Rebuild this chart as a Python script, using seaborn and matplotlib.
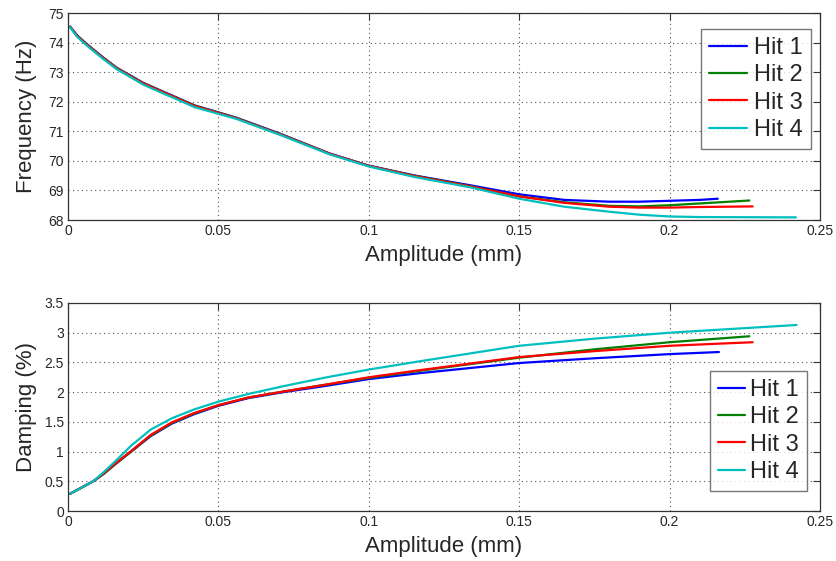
import numpy as np
import pandas as pd
import matplotlib
matplotlib.use("Agg")
import matplotlib.pyplot as plt
import seaborn as sns

hits = ['Hit 1', 'Hit 2', 'Hit 3', 'Hit 4']

# amplitude (mm) / frequency (Hz)
freq_amp_common = [0.0007, 0.003, 0.0057, 0.0084, 0.0118, 0.0162, 0.02, 0.025, 0.031,
                   0.036, 0.042, 0.05, 0.056, 0.0705, 0.087, 0.1, 0.115, 0.134, 0.15,
                   0.165, 0.18, 0.19, 0.2, 0.21]
freq_amp_end = {'Hit 1': 0.216, 'Hit 2': 0.2265, 'Hit 3': 0.2276, 'Hit 4': 0.242}
freq_hit1 = [74.54, 74.25, 74.0, 73.77, 73.49, 73.15, 72.93, 72.64, 72.37, 72.15, 71.88,
             71.64, 71.46, 70.92, 70.25, 69.84, 69.51, 69.17, 68.87, 68.68, 68.62, 68.62,
             68.65, 68.68, 68.72]
freq_hit2 = [74.54, 74.24, 73.99, 73.76, 73.48, 73.14, 72.92, 72.63, 72.36, 72.14, 71.87,
             71.63, 71.45, 70.91, 70.24, 69.83, 69.5, 69.14, 68.8, 68.6, 68.48, 68.46,
             68.5, 68.56, 68.66]
freq_hit3 = [74.53, 74.23, 73.98, 73.75, 73.47, 73.13, 72.91, 72.62, 72.35, 72.13, 71.86,
             71.62, 71.44, 70.9, 70.24, 69.83, 69.49, 69.13, 68.8, 68.58, 68.45, 68.42,
             68.42, 68.44, 68.46]
freq_hit4 = [74.52, 74.2, 73.95, 73.72, 73.44, 73.1, 72.88, 72.58, 72.31, 72.09, 71.82,
             71.59, 71.42, 70.88, 70.22, 69.81, 69.46, 69.1, 68.72, 68.45, 68.28, 68.18,
             68.12, 68.1, 68.09]

# amplitude (mm) / damping (%)
damp_amp_common = [0.0007, 0.0084, 0.012, 0.016, 0.021, 0.0275, 0.0345, 0.042, 0.05,
                   0.06, 0.0716, 0.085, 0.1, 0.117, 0.15, 0.175, 0.2]
damp_amp_end = {'Hit 1': 0.2164, 'Hit 2': 0.2265, 'Hit 3': 0.2276, 'Hit 4': 0.2422}
damp_hit1 = [0.29, 0.5, 0.63, 0.8, 1.0, 1.26, 1.47, 1.63, 1.77, 1.9, 2.0, 2.1, 2.22,
             2.32, 2.49, 2.57, 2.64, 2.675]
damp_hit2 = [0.29, 0.5, 0.63, 0.8, 1.0, 1.27, 1.48, 1.64, 1.78, 1.91, 2.01, 2.12, 2.24,
             2.36, 2.58, 2.72, 2.84, 2.94]
damp_hit3 = [0.29, 0.5, 0.64, 0.81, 1.01, 1.28, 1.49, 1.65, 1.78, 1.91, 2.01, 2.12, 2.25,
             2.37, 2.59, 2.69, 2.78, 2.84]
damp_hit4 = [0.29, 0.5, 0.66, 0.85, 1.1, 1.37, 1.56, 1.71, 1.84, 1.97, 2.1, 2.24, 2.38,
             2.52, 2.78, 2.9, 3.0, 3.13]

COLORS = {'Hit 1': (0, 0, 1), 'Hit 2': (0, 0.5, 0),
          'Hit 3': (1, 0, 0), 'Hit 4': (0, 0.75, 0.75)}


def long_table(common, ends, series, col):
    rows = []
    for hit, vals in zip(hits, series):
        xs = list(common) + [ends[hit]]
        for x, v in zip(xs, vals):
            rows.append({'Amplitude': x, col: v, 'Hit': hit})
    return pd.DataFrame(rows)


freq_df = long_table(freq_amp_common, freq_amp_end,
                     [freq_hit1, freq_hit2, freq_hit3, freq_hit4], 'Frequency')
damp_df = long_table(damp_amp_common, damp_amp_end,
                     [damp_hit1, damp_hit2, damp_hit3, damp_hit4], 'Damping')

sns.set_style('white')
plt.rcParams['font.family'] = ['Liberation Sans', 'DejaVu Sans']

fig = plt.figure(figsize=(8.37, 5.61), dpi=100)
ax1 = fig.add_axes([0.0812, 0.6078, 0.8985, 0.369])
ax2 = fig.add_axes([0.0812, 0.0891, 0.8985, 0.3708])


def style_axis(ax, ylabel, ylim, yticks, yticklabels):
    ax.set_xlim(0, 0.25)
    ax.set_ylim(*ylim)
    ax.set_xticks([0, 0.05, 0.1, 0.15, 0.2, 0.25])
    ax.set_xticklabels(['0', '0.05', '0.1', '0.15', '0.2', '0.25'])
    ax.set_yticks(yticks)
    ax.set_yticklabels(yticklabels)
    ax.tick_params(direction='in', top=True, right=True, length=5,
                   labelsize=10, pad=3, color='#333333')
    ax.grid(True, linestyle=(0, (1, 3)), color='#555555', linewidth=0.8)
    for s in ax.spines.values():
        s.set_color('#333333')
        s.set_linewidth(0.9)
    ax.set_xlabel('Amplitude (mm)', fontsize=16, labelpad=5)
    ax.set_ylabel(ylabel, fontsize=16)
    ax.yaxis.set_label_coords(-0.041, 0.5)


sns.lineplot(data=freq_df, x='Amplitude', y='Frequency', hue='Hit',
             palette=COLORS, linewidth=1.6, ax=ax1, estimator=None, sort=False)
sns.lineplot(data=damp_df, x='Amplitude', y='Damping', hue='Hit',
             palette=COLORS, linewidth=1.6, ax=ax2, estimator=None, sort=False)

style_axis(ax1, 'Frequency (Hz)', (68, 75), range(68, 76),
           [str(v) for v in range(68, 76)])
style_axis(ax2, 'Damping (%)', (0, 3.5), np.arange(0, 3.51, 0.5),
           ['0', '0.5', '1', '1.5', '2', '2.5', '3', '3.5'])

for ax, loc, anchor, hl, htp in [(ax1, 'upper right', (0.988, 0.923), 1.6, 0.3),
                                 (ax2, 'lower right', (0.983, 0.096), 1.15, 0.2)]:
    leg = ax.legend(loc=loc, bbox_to_anchor=anchor, fontsize=17, title=None,
                    fancybox=False, handlelength=hl, handletextpad=htp,
                    borderpad=0.35, labelspacing=0.22, borderaxespad=0)
    leg.get_frame().set_edgecolor('#555555')
    leg.get_frame().set_linewidth(1.0)

fig.savefig('out.png', dpi=100)
